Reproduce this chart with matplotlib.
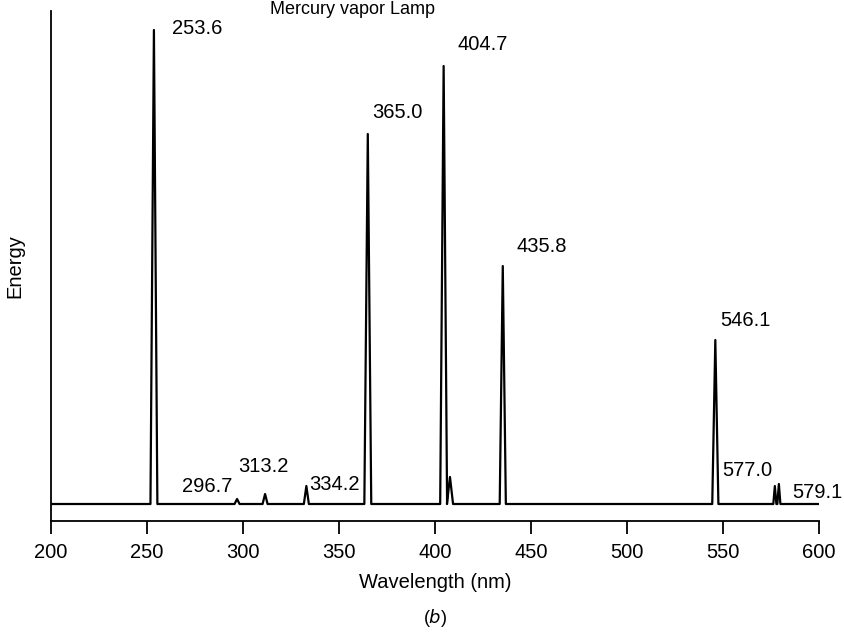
import numpy as np
import matplotlib
matplotlib.use('Agg')
import matplotlib.pyplot as plt

plt.rcParams['font.family'] = ['Liberation Sans', 'DejaVu Sans']

# 谱线: 波长 / 相对强度 / 半宽
centers = [253.6, 296.9, 311.5, 333.0, 365.0, 404.5, 407.8, 435.3, 546.0, 577.0, 579.1]
heights = [474, 5, 10, 18, 370, 438, 27, 238, 164, 18, 20]
halfw = [1.8, 1.3, 1.3, 1.3, 1.8, 1.8, 1.6, 1.6, 1.6, 0.8, 0.8]

labels = ['253.6', '296.7', '313.2', '334.2', '365.0', '404.7', '435.8', '546.1', '577.0', '579.1']
label_x = [263.0, 268.2, 297.4, 334.4, 367.2, 411.5, 442.2, 548.4, 549.5, 586.0]
label_y = [476, 17, 37, 20, 391, 459, 258, 184, 34, 12]

# 三角形谱峰
xs = [200.0]
ys = [0.0]
for c, h, w in zip(centers, heights, halfw):
    xs += [c - w, c, c + w]
    ys += [0, h, 0]
xs.append(600.0)
ys.append(0.0)

fig = plt.figure(figsize=(8.44, 6.36), dpi=100)
ax = fig.add_axes([51 / 844, 115 / 636, 768 / 844, 510 / 636])
ax.plot(xs, ys, color='black', linewidth=1.6)

ax.set_xlim(200, 600)
ax.set_ylim(-17, 493)
ax.spines['top'].set_visible(False)
ax.spines['right'].set_visible(False)
ax.spines['left'].set_linewidth(1.3)
ax.spines['bottom'].set_linewidth(1.3)
ax.set_yticks([])
ax.set_xticks(range(200, 601, 50))
ax.tick_params(axis='x', direction='out', length=9, width=1.3, labelsize=14.5, pad=7)

for t, x, y in zip(labels, label_x, label_y):
    ax.text(x, y, t, fontsize=14.5, va='center', ha='left')

ax.text(356.8, 494, 'Mercury vapor Lamp', fontsize=13, ha='center', va='center', clip_on=False)
ax.set_ylabel('Energy', fontsize=14.5, labelpad=19)
ax.set_xlabel('Wavelength (nm)', fontsize=14.5, labelpad=8)
fig.text(435 / 844, 1 - 618 / 636, '($b$)', fontsize=13, ha='center', va='center')

fig.savefig('out.png', dpi=100)
